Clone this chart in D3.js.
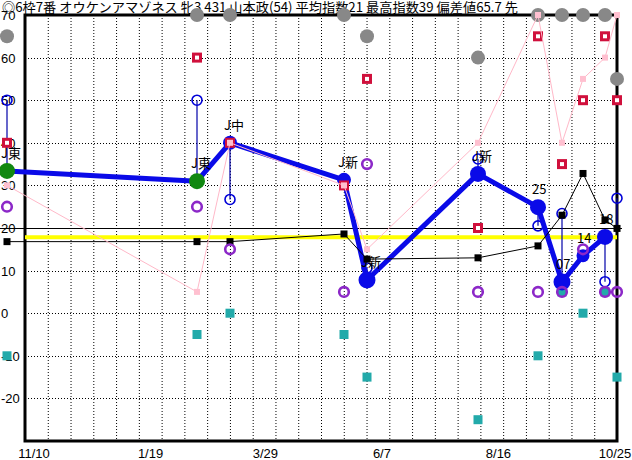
<!DOCTYPE html>
<html><head><meta charset="utf-8">
<script src="https://cdn.jsdelivr.net/npm/d3@7"></script>
<style>html,body{margin:0;padding:0;background:#fff;}svg{display:block;}</style>
</head><body>
<svg id="c" width="632" height="460"></svg>
<script>
const title = "◎6枠7番 オウケンアマゾネス 牝3 431 山本政(54) 平均指数21 最高指数39 偏差値65.7 先";
const raceDates = ["2020-10-25","2021-02-16","2021-03-08","2021-05-15","2021-05-29","2021-08-04","2021-09-09","2021-09-23","2021-10-06","2021-10-19","2021-10-26"];
const mainIndex = [33.4, 31.0, 40.0, 31.3, 7.8, 32.7, 24.9, 7.3, 13.5, 17.9, null];
const mainColor = ["green","green","blue","blue","blue","blue","blue","blue","blue","blue",null];
const mainRadius = [8, 8, 7, 7, 8.5, 8, 8, 8.5, 6.5, 8, null];
const raceLabels = ["J東","J東","J中","J新","J新","J新","25","07","14","18",""];
const blackSeries = [16.8, 16.8, 16.8, 18.6, 12.7, 13.0, 15.8, 23.0, 32.8, 21.9, 19.9];
const redSeries = [40, 60, 40, 30, 55, 20, 65, 35, 50, 65, 50];
const pinkSeries = [30, 5, 40, 30, 15, 40, 70, 40, 55, 60, 70];
const graySeries = [65, 70, 70, 70, 65, 60, 70, 70, 70, 70, 55];
const blueOpen = [50, 50, 26.7, null, 10.6, 36.2, 20.5, 23.4, null, 7.4, 27.0];
const purpleSeries = [25, 25, 15, 5, 35, 5, 5, 5, 15, 5, 5];
const tealSeries = [-10, -5, 0, -5, -15, -25, -10, 5, 0, 5, -15];
const averageLine = 17.8;
const yTicks = [70, 60, 50, 40, 30, 20, 10, 0, -10, -20];
const xTickLabels = ["11/10","1/19","3/29","6/7","8/16","10/25"];
const xTickDates = ["2020-11-10","2021-01-19","2021-03-29","2021-06-07","2021-08-16","2021-10-25"];
const gridDivisions = 26;

const parse = d3.timeParse("%Y-%m-%d");
const svg = d3.select("#c");
const L = 25, R = 617, T = 15, B = 441;
const x = d3.scaleTime().domain([parse("2020-11-10"), parse("2021-10-25")]).range([34, 615]);
const y = d3.scaleLinear().domain([-30, 70]).range([B, T]);
const gx = d3.scaleLinear().domain([0, gridDivisions]).range([L, R]);

const races = raceDates.map((d, i) => ({
  i, date: parse(d), main: mainIndex[i], mc: mainColor[i], mr: mainRadius[i], label: raceLabels[i],
  black: blackSeries[i], red: redSeries[i], pink: pinkSeries[i], gray: graySeries[i],
  open: blueOpen[i], purple: purpleSeries[i], teal: tealSeries[i]
}));
const X = d => Math.round(x(d.date));

// grid
const grid = svg.append("g");
grid.selectAll("line.v").data(d3.range(1, gridDivisions)).join("line")
  .attr("x1", d => gx(d) + 0.5).attr("x2", d => gx(d) + 0.5).attr("y1", T).attr("y2", B)
  .attr("stroke", "#000").attr("stroke-width", 1).attr("stroke-dasharray", "1,2");
grid.selectAll("line.h").data(yTicks.filter(v => v < 70 && v !== 20)).join("line")
  .attr("x1", L).attr("x2", R).attr("y1", d => Math.round(y(d)) + 0.5).attr("y2", d => Math.round(y(d)) + 0.5)
  .attr("stroke", "#000").attr("stroke-width", 1).attr("stroke-dasharray", "1,2");
grid.append("line").attr("x1", 0).attr("x2", 622).attr("y1", Math.round(y(20)) + 0.5).attr("y2", Math.round(y(20)) + 0.5)
  .attr("stroke", "#000").attr("stroke-width", 1);

// border
const bd = svg.append("g").attr("stroke", "#000").attr("stroke-width", 3).attr("fill", "none");
bd.append("path").attr("d", `M${L},${T}H${R}V${B}H${L}Z`);

// axis labels
svg.append("g").selectAll("text").data(yTicks).join("text")
  .attr("x", 1).attr("y", d => y(d) + 5)
  .attr("font-family", "Liberation Sans, Arial, sans-serif").attr("font-size", 13).attr("fill", "#000")
  .text(d => d);
svg.append("g").selectAll("text").data(xTickLabels).join("text")
  .attr("x", (d, i) => x(parse(xTickDates[i]))).attr("y", 458).attr("text-anchor", "middle")
  .attr("font-family", "Liberation Sans, Arial, sans-serif").attr("font-size", 13).attr("fill", "#000")
  .text(d => d);
svg.append("text").attr("x", 2).attr("y", 12)
  .attr("font-family", "Noto Sans CJK JP, sans-serif").attr("font-size", 13)
  .attr("textLength", 516).attr("lengthAdjust", "spacingAndGlyphs").attr("fill", "#000")
  .text(title);

// average yellow line
svg.append("line").attr("x1", L).attr("x2", R).attr("y1", y(averageLine)).attr("y2", y(averageLine))
  .attr("stroke", "#ffff00").attr("stroke-width", 4);

// vertical navy lines + open circles
const openRaces = races.filter(d => d.open != null);
svg.append("g").selectAll("line").data(openRaces).join("line")
  .attr("x1", X).attr("x2", X).attr("y1", d => y(d.open))
  .attr("y2", d => y(d.main != null ? d.main : d.black))
  .attr("stroke", "#0000a8").attr("stroke-width", 1.2);
svg.append("g").selectAll("circle").data(openRaces).join("circle")
  .attr("cx", X).attr("cy", d => y(d.open)).attr("r", 5)
  .attr("fill", "none").attr("stroke", "#0000d8").attr("stroke-width", 1.6);

// main line
const mainRaces = races.filter(d => d.main != null);
svg.append("path").datum(mainRaces)
  .attr("d", d3.line().x(X).y(d => y(d.main)))
  .attr("fill", "none").attr("stroke", "#0a0ae8").attr("stroke-width", 5).attr("stroke-linejoin", "round");

// black line and squares
svg.append("path").datum(races)
  .attr("d", d3.line().x(X).y(d => y(d.black)))
  .attr("fill", "none").attr("stroke", "#000").attr("stroke-width", 1);
svg.append("g").selectAll("rect").data(races).join("rect")
  .attr("x", d => X(d) - 3.5).attr("y", d => y(d.black) - 3.5).attr("width", 7).attr("height", 7)
  .attr("fill", "#000");

// teal squares
svg.append("g").selectAll("rect").data(races).join("rect")
  .attr("x", d => X(d) - 4.5).attr("y", d => y(d.teal) - 4.5).attr("width", 9).attr("height", 9)
  .attr("fill", "#22aaaa");

// main circles
svg.append("g").selectAll("circle").data(mainRaces).join("circle")
  .attr("cx", X).attr("cy", d => y(d.main)).attr("r", d => d.mr)
  .attr("fill", d => d.mc === "green" ? "#118811" : "#0a0ae8");

// purple circles
svg.append("g").selectAll("circle").data(races).join("circle")
  .attr("cx", X).attr("cy", d => y(d.purple)).attr("r", 4.8)
  .attr("fill", "none").attr("stroke", "#8c28c8").attr("stroke-width", 2.6);

// red squares
svg.append("g").selectAll("rect").data(races).join("rect")
  .attr("x", d => X(d) - 3.5).attr("y", d => y(d.red) - 3.5).attr("width", 7).attr("height", 7)
  .attr("fill", "#fff").attr("stroke", "#d0103c").attr("stroke-width", 3);

// gray circles
svg.append("g").selectAll("circle").data(races).join("circle")
  .attr("cx", X).attr("cy", d => y(d.gray)).attr("r", 7)
  .attr("fill", "#888");

// pink line and squares
svg.append("path").datum(races)
  .attr("d", d3.line().x(X).y(d => y(d.pink)))
  .attr("fill", "none").attr("stroke", "#ffb8c8").attr("stroke-width", 1);
svg.append("g").selectAll("rect").data(races).join("rect")
  .attr("x", d => X(d) - 3).attr("y", d => y(d.pink) - 3).attr("width", 6).attr("height", 6)
  .attr("fill", "#ffc0d0");

// race labels
svg.append("g").selectAll("text").data(mainRaces).join("text")
  .attr("x", d => X(d) - 6).attr("y", d => y(d.main) - 13)
  .attr("font-family", "Noto Sans CJK JP, sans-serif").attr("font-size", 13).attr("fill", "#000")
  .text(d => d.label);
</script>
</body></html>
